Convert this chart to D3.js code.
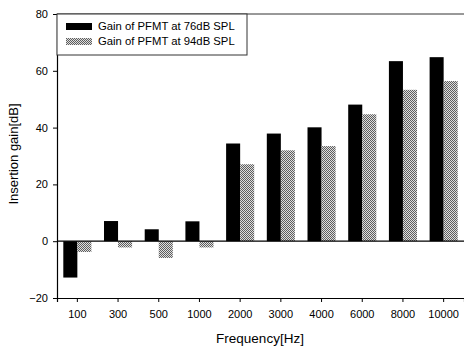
<!DOCTYPE html>
<html><head><meta charset="utf-8">
<script src="https://cdn.jsdelivr.net/npm/d3@7"></script>
<style>body{margin:0;background:#fff}svg{display:block}text{font-family:"Liberation Sans",Arial,sans-serif;fill:#000}</style>
</head><body><svg id="c" width="464" height="347"></svg>
<script>
const categories = ["100","300","500","1000","2000","3000","4000","6000","8000","10000"];
const gain76 = [-12.8, 7.1, 4.2, 7.0, 34.4, 37.9, 40.1, 48.1, 63.4, 64.8];
const gain94 = [-3.8, -2.2, -5.9, -2.2, 27.1, 32.0, 33.5, 44.7, 53.3, 56.4];
const seriesNames = ["Gain of PFMT at 76dB SPL", "Gain of PFMT at 94dB SPL"];
const yTicks = [-20, 0, 20, 40, 60, 80];

const svg = d3.select("#c");
const L = 57, R = 464, T = 14, B = 298;
const x = d3.scaleBand().domain(categories).range([L, R]).paddingInner(0.31).paddingOuter(0.155);
const y = d3.scaleLinear().domain([-20, 80]).range([B, T]);
const xs = d3.scaleBand().domain([0,1]).range([0, x.bandwidth()]);

const defs = svg.append("defs");
const pat = defs.append("pattern").attr("id","stip").attr("patternUnits","userSpaceOnUse").attr("width",2).attr("height",2);
pat.append("rect").attr("width",2).attr("height",2).attr("fill","#dedede");
pat.append("rect").attr("x",0).attr("y",0).attr("width",1).attr("height",1).attr("fill","#5e5e5e");
pat.append("rect").attr("x",1).attr("y",1).attr("width",1).attr("height",1).attr("fill","#5e5e5e");

const fills = ["#000", "url(#stip)"];
[gain76, gain94].forEach((vals, si) => {
  svg.append("g").selectAll("rect").data(vals).join("rect")
    .attr("x", (d,i) => x(categories[i]) + xs(si))
    .attr("width", xs.bandwidth())
    .attr("y", d => y(Math.max(0,d)))
    .attr("height", d => Math.abs(y(d) - y(0)))
    .attr("fill", fills[si]);
});

svg.append("line").attr("x1",L).attr("x2",R).attr("y1",y(0)).attr("y2",y(0)).attr("stroke","#000").attr("stroke-width",1.2);
svg.append("line").attr("x1",L).attr("x2",R).attr("y1",T).attr("y2",T).attr("stroke","#333").attr("stroke-width",1);

const yAxis = svg.append("g").attr("transform",`translate(${L},0)`)
  .call(d3.axisLeft(y).tickValues(yTicks).tickSize(4).tickPadding(5));
const xAxis = svg.append("g").attr("transform",`translate(0,${B})`)
  .call(d3.axisBottom(x).tickSize(4).tickPadding(8));
[yAxis, xAxis].forEach(g => {
  g.select(".domain").attr("stroke","#000").attr("stroke-width",1.2);
  g.selectAll(".tick line").attr("stroke","#000");
  g.selectAll("text").attr("font-size",11).attr("font-family","Liberation Sans, Arial, sans-serif").attr("fill","#000");
});

const lg = svg.append("g");
lg.append("rect").attr("x",L).attr("y",T).attr("width",190).attr("height",41).attr("fill","#fff").attr("stroke","#333").attr("stroke-width",1);
seriesNames.forEach((n,i) => {
  lg.append("rect").attr("x",66).attr("y",23 + i*15).attr("width",26).attr("height",7).attr("fill",fills[i]);
  lg.append("text").attr("x",98).attr("y",30 + i*15).attr("font-size",11.3).text(n);
});

svg.append("text").attr("transform",`translate(18,154) rotate(-90)`).attr("text-anchor","middle").attr("font-size",13).text("Insertion gain[dB]");
svg.append("text").attr("x",260).attr("y",343).attr("text-anchor","middle").attr("font-size",13.5).text("Frequency[Hz]");
</script></body></html>
